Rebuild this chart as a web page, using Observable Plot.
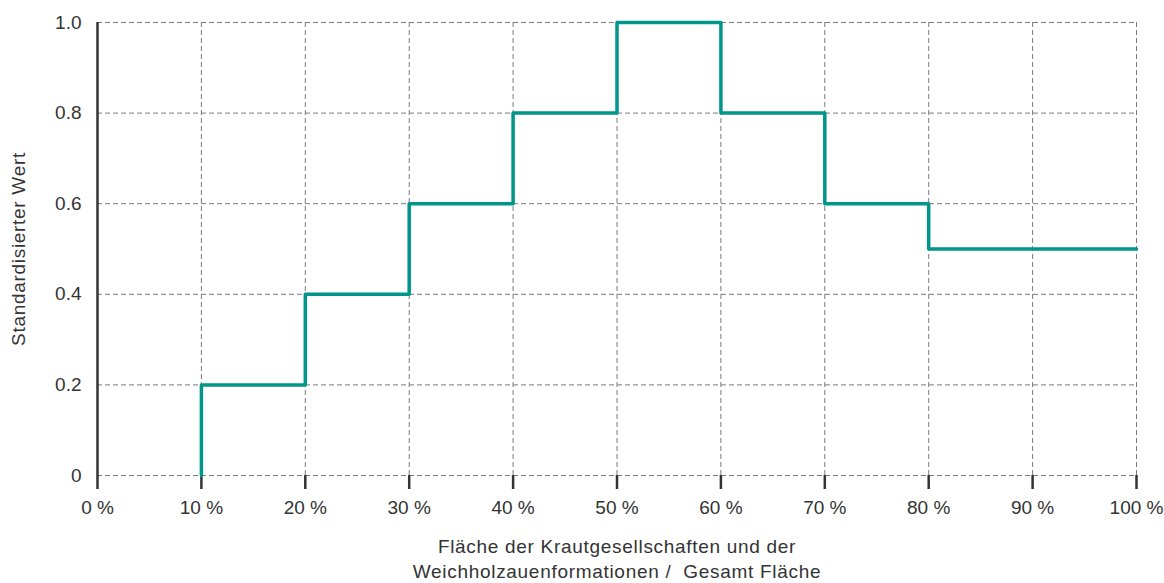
<!DOCTYPE html>
<html>
<head>
<meta charset="utf-8">
<script src="https://cdn.jsdelivr.net/npm/d3@7"></script>
<script src="https://cdn.jsdelivr.net/npm/@observablehq/plot@0.6"></script>
<style>
  html, body { margin: 0; padding: 0; background: #fff; }
</style>
</head>
<body>
<div id="chart"></div>
<script>
// Step breakpoints (share of area, %) and standardised values
const stepX = [10, 10, 20, 30, 40, 50, 60, 70, 80, 100];
const stepY = [0, 0.2, 0.4, 0.6, 0.8, 1.0, 0.8, 0.6, 0.5, 0.5];

const xTicks = [0, 10, 20, 30, 40, 50, 60, 70, 80, 90, 100];
const xTickLabels = ["0 %", "10 %", "20 %", "30 %", "40 %", "50 %", "60 %", "70 %", "80 %", "90 %", "100 %"];
const yTicks = [0, 0.2, 0.4, 0.6, 0.8, 1.0];
const yTickLabels = ["0", "0.2", "0.4", "0.6", "0.8", "1.0"];

const yLabel = "Standardisierter Wert";
const xLabel = "Fläche der Krautgesellschaften und der\nWeichholzauenformationen /  Gesamt Fläche";

const data = stepX.map((x, i) => ({x, y: stepY[i]}));
const FS = 19;

const chart = Plot.plot({
  width: 1164,
  height: 583,
  marginLeft: 97,
  marginRight: 28,
  marginTop: 22,
  marginBottom: 108,
  style: {fontFamily: "'Liberation Sans', Arial, sans-serif", fontSize: FS + "px", color: "#333", background: "#fff"},
  x: {domain: [0, 100]},
  y: {domain: [0, 1]},
  marks: [
    Plot.gridY(yTicks, {stroke: "#7a7a7a", strokeOpacity: 1, strokeWidth: 1, strokeDasharray: "5,3"}),
    Plot.gridX(xTicks.slice(1), {stroke: "#7a7a7a", strokeOpacity: 1, strokeWidth: 1, strokeDasharray: "5,3"}),
    Plot.ruleX([0], {y1: 0, y2: 1, stroke: "#333", strokeWidth: 2.5}),
    Plot.axisX({ticks: xTicks, tickFormat: d => xTickLabels[xTicks.indexOf(d)], tickSize: 14, tickPadding: 11, stroke: "#333", strokeWidth: 2.5, fontSize: FS, label: null}),
    Plot.axisY({ticks: yTicks, tickFormat: d => yTickLabels[yTicks.indexOf(d)], tickSize: 0, tickPadding: 16, fontSize: FS, label: null}),
    Plot.line(data, {x: "x", y: "y", curve: "step-after", stroke: "#00968a", strokeWidth: 3.5}),
    Plot.text([yLabel], {frameAnchor: "left", dx: -79, rotate: -90, textAnchor: "middle", fill: "#333", fontSize: FS}),
    Plot.text([xLabel], {frameAnchor: "bottom", dy: 60, lineAnchor: "top", lineHeight: 1.32, textAnchor: "middle", fill: "#333", fontSize: FS})
  ]
});
d3.select(chart).selectAll("text").each(function() {
  const t = this.textContent;
  if (t.includes("Wert") || t.includes("Fläche")) this.style.letterSpacing = "0.7px";
});
document.getElementById("chart").append(chart);
</script>
</body>
</html>
